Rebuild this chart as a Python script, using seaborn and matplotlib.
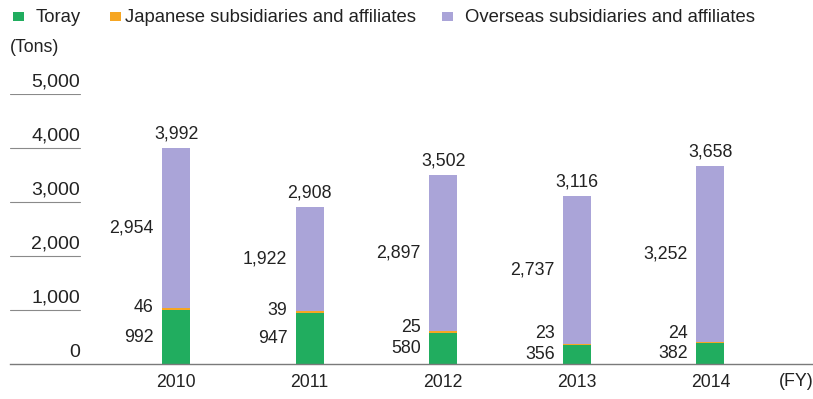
import matplotlib
matplotlib.use("Agg")
import matplotlib.pyplot as plt
from matplotlib.patches import Rectangle
import seaborn as sns
import pandas as pd

# Waste volume by group segment (tons), fiscal years 2010-2014
years = ["2010", "2011", "2012", "2013", "2014"]
toray = [992, 947, 580, 356, 382]
japan = [46, 39, 25, 23, 24]
overseas = [2954, 1922, 2897, 2737, 3252]
totals = [3992, 2908, 3502, 3116, 3658]
series_names = ["Toray", "Japanese subsidiaries and affiliates",
                "Overseas subsidiaries and affiliates"]
colors = ["#21ad5f", "#f6a623", "#aaa4d8"]
yticks = [0, 1000, 2000, 3000, 4000, 5000]

sns.set_theme(style="white")
plt.rcParams["font.family"] = ["Liberation Sans", "DejaVu Sans"]
TXT = "#222222"

W, H = 813, 399
fig = plt.figure(figsize=(W / 100, H / 100), dpi=100)
ax = fig.add_axes([10 / W, 35 / H, 802 / W, 270 / H])

df = pd.DataFrame({"year": years, "toray": toray, "japan": japan, "overseas": overseas})
df["lvl1"] = df["toray"]
df["lvl2"] = df["lvl1"] + df["japan"]
df["lvl3"] = df["lvl2"] + df["overseas"]

bar_w = 0.21
# stacked bars drawn as overlapping cumulative heights, tallest first
for col, c in zip(["lvl3", "lvl2", "lvl1"], colors[::-1]):
    sns.barplot(data=df, x="year", y=col, color=c, saturation=1, width=bar_w,
                linewidth=0, ax=ax, errorbar=None)

ax.set_xlim(-1.243, 4.76)
ax.set_ylim(0, 5000)
ax.set_xlabel("")
ax.set_ylabel("")
for s in ["top", "right", "left"]:
    ax.spines[s].set_visible(False)
ax.spines["bottom"].set_color("#7a7a7a")
ax.spines["bottom"].set_linewidth(1.0)
ax.set_yticks([])
ax.set_xticks(range(len(years)))
ax.set_xticklabels(years, fontsize=12.7, color=TXT)
ax.tick_params(axis="x", length=0, pad=7.5)

# short rules with the scale values sitting on top
xr = 70 / 802
for v in yticks:
    if v > 0:
        ax.axhline(v, xmin=0, xmax=xr, color="#8a8a8a", lw=0.8)
    ax.annotate(f"{v:,}", xy=(xr, v), xycoords=("axes fraction", "data"),
                xytext=(0, 2.5), textcoords="offset points",
                ha="right", va="bottom", fontsize=14, color=TXT)

# value labels
for i in range(len(years)):
    left = i - bar_w / 2
    ax.annotate(f"{totals[i]:,}", xy=(i, df["lvl3"][i]), xytext=(0, 4),
                textcoords="offset points", ha="center", va="bottom",
                fontsize=12.8, color=TXT, annotation_clip=False)
    y_t = max(toray[i] / 2, 150)
    ax.annotate(f"{toray[i]:,}", xy=(left, y_t), xytext=(-6, 0),
                textcoords="offset points", ha="right", va="center",
                fontsize=12.8, color=TXT)
    y_j = max(df["lvl2"][i], toray[i] / 2 + 380)
    ax.annotate(f"{japan[i]:,}", xy=(left, y_j), xytext=(-6, 0),
                textcoords="offset points", ha="right", va="center",
                fontsize=12.8, color=TXT)
    y_o = (df["lvl2"][i] + df["lvl3"][i]) / 2
    ax.annotate(f"{overseas[i]:,}", xy=(left, y_o), xytext=(-6, 0),
                textcoords="offset points", ha="right", va="center",
                fontsize=12.8, color=TXT)

# legend row
leg_x = [(13, 36), (110, 125), (442, 465)]
for (sx, tx), name, c in zip(leg_x, series_names, colors):
    fig.patches.append(Rectangle((sx / W, 1 - 21 / H), 11 / W, 9 / H,
                                 transform=fig.transFigure, color=c, lw=0))
    fig.text(tx / W, 1 - 17 / H, name, ha="left", va="center",
             fontsize=13.3, color=TXT)

fig.text(10 / W, 1 - 47 / H, "(Tons)", ha="left", va="center", fontsize=12.8, color=TXT)
fig.text(796 / W, 1 - 381 / H, "(FY)", ha="center", va="center", fontsize=12.8, color=TXT)

fig.savefig("out.png", dpi=100)
